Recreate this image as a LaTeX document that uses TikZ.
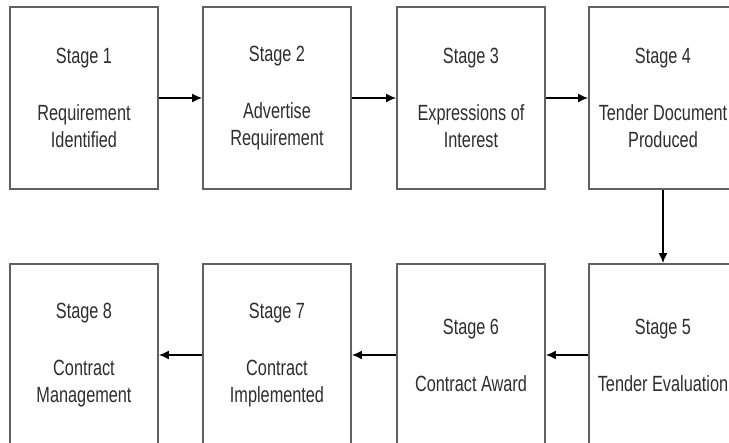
\documentclass[tikz,border=0pt]{standalone}
\usepackage{fontspec}
\usetikzlibrary{arrows.meta}
\setmainfont{Liberation Sans}
\newfontfamily\stagefont[FakeStretch=0.74]{Liberation Sans}

\begin{document}
\begin{tikzpicture}[x=1pt, y=1pt,
        stagebox/.style={draw=black!62, line width=1.8pt, fill=white,
            minimum width=148pt, minimum height=182pt, inner sep=0pt,
            align=center, text=black!82,
            font=\stagefont\fontsize{22}{27}\selectfont},
        flow/.style={-{Latex[length=10pt, width=9pt]}, line width=1.6pt, black}]
        \useasboundingbox (0, 0) rectangle (729, 443);
        \clip (0, 0) rectangle (729, 443);
        % top row
        \node[stagebox] (s1) at (84, 345) {Stage 1\\[30pt]Requirement\\Identified};
        \node[stagebox] (s2) at (277, 345) {Stage 2\\[30pt]Advertise\\Requirement};
        \node[stagebox] (s3) at (471, 345) {Stage 3\\[30pt]Expressions of\\Interest};
        \node[stagebox] (s4) at (663, 345) {Stage 4\\[30pt]Tender Document\\Produced};
        % bottom row
        \node[stagebox] (s5) at (663, 88) {Stage 5\\[30pt]Tender Evaluation};
        \node[stagebox] (s6) at (471, 88) {Stage 6\\[30pt]Contract Award};
        \node[stagebox] (s7) at (277, 88) {Stage 7\\[30pt]Contract\\Implemented};
        \node[stagebox] (s8) at (84, 88) {Stage 8\\[30pt]Contract\\Management};
        % arrows
        \draw[flow] (s1) -- (s2);
        \draw[flow] (s2) -- (s3);
        \draw[flow] (s3) -- (s4);
        \draw[flow] (s4) -- (s5);
        \draw[flow] (s5) -- (s6);
        \draw[flow] (s6) -- (s7);
        \draw[flow] (s7) -- (s8);
    \end{tikzpicture}
\end{document}
